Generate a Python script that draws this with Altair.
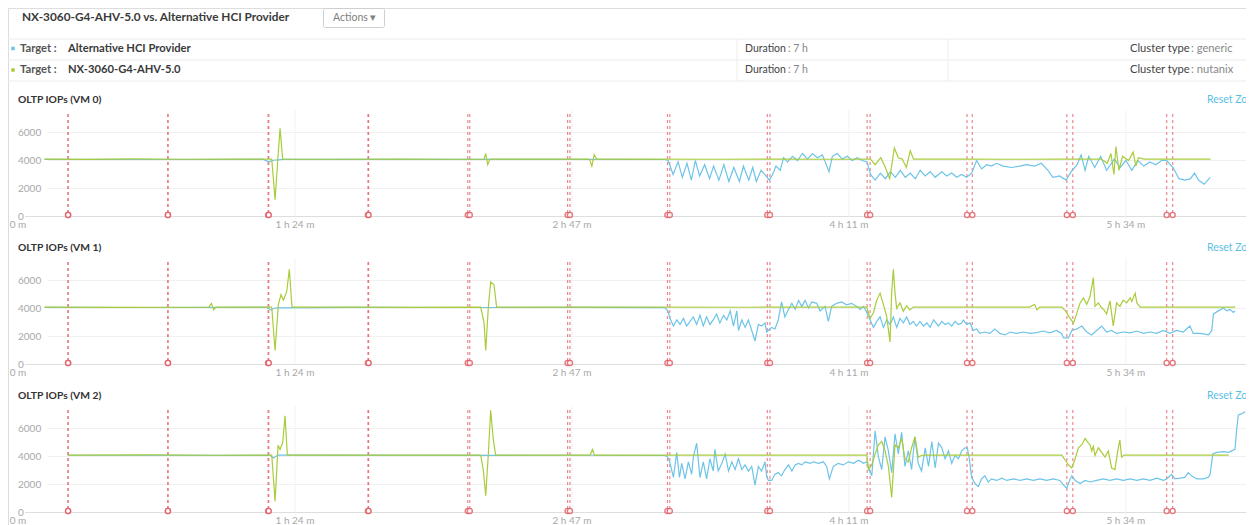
import altair as alt
import pandas as pd

# ---------------- values ----------------
header_title = "NX-3060-G4-AHV-5.0 vs. Alternative HCI Provider"
targets = ["Alternative HCI Provider", "NX-3060-G4-AHV-5.0"]
durations = ["7 h", "7 h"]
cluster_types = ["generic", "nutanix"]
panel_titles = ["OLTP IOPs (VM 0)", "OLTP IOPs (VM 1)", "OLTP IOPs (VM 2)"]
x_tick_minutes = [0, 83.5, 167, 250.5, 334]
x_tick_labels = ["0 m", "1 h 24 m", "2 h 47 m", "4 h 11 m", "5 h 34 m"]
y_tick_values = [0, 2000, 4000, 6000]

events_alt = [15.1, 45.2, 75.4, 105.5, 135.6, 165.7, 195.8, 225.9, 256.0, 286.1, 316.2, 346.3]
events_nx = [15.1, 45.2, 75.6, 105.7, 136.2, 166.4, 196.5, 226.7, 256.9, 287.7, 318.0, 348.1]

vm0_alt = [(8,4080),(40,4070),(74,4080),(75.6,3900),(77,4020),(80,4080),(120,4075),(160,4080),(195,4070),
 (196,4000),(197.5,3000),(199,3900),(200.3,2800),(201.7,3800),(203,2600),(204.2,4000),(205.5,2900),(207,3700),
 (208.5,2700),(209.7,3600),(211.3,2600),(212.8,3700),(214.3,2500),(215.8,3500),(217.5,2500),(218.7,3600),
 (220.3,2600),(221.5,3500),(222.6,2500),(224,3300),(225.5,2900),
 (226.5,2600),(227.5,3000),(228.5,3600),(229.8,3300),(230.8,4200),(232,3900),(233.5,4300),(235,4000),(236.5,4500),
 (238,4100),(239.5,4500),(241,4200),(242.5,4400),(244.5,3200),(245.5,4300),(247,4500),(248.5,4100),(250,4300),
 (251.5,4000),(253,4200),(254.5,4000),(256,3900),
 (257,3000),(258.4,2600),(260,3100),(261.5,2700),(263,3200),(264.5,2800),(266,3300),(267.5,2800),(269,3100),
 (270.5,2700),(272,3300),(273.5,2900),(275,3200),(276.5,2800),(278.5,3200),(280,2900),(281.5,3100),(283,2800),
 (284.5,3000),(286,2800),
 (287.5,3100),(289,4000),(290.5,3400),(292,3700),(293.5,3600),(295,3800),(297,3600),(299.5,3500),(302,3600),
 (304,3700),(306.5,3600),(308.5,3800),(310.5,3300),(312,2800),(314,2900),(316,2600),
 (317.5,3200),(319.3,3700),(320.5,4400),(321.7,3300),(322.8,4300),(324.6,3500),(326.4,4300),(328.2,3300),
 (330.5,4100),(332.3,3500),(334,4000),(335.8,3300),(337.6,4000),(339.4,3600),(341.2,3900),(343,3700),
 (344.8,4000),(346.3,4000),
 (348.2,3500),(350,2700),(351.8,2600),(353.5,2700),(354.7,3100),(355.9,2600),(357.6,2300),(359.4,2800)]

vm0_nx = [(8,4100),(20,4080),(35,4110),(50,4090),(65,4100),(76.5,4100),(77.5,1200),(78.3,4000),(79,6300),
 (79.8,4100),(95,4090),(115,4100),(130,4090),(140.5,4100),(141,4500),(141.6,3700),(142.3,4100),(158,4100),
 (172.3,4100),(173,3600),(173.7,4400),(174.5,4100),(190,4100),(210,4090),(230,4100),(245,4090),(257,4100),
 (258.4,3700),(260.1,4200),(261.3,3600),(262.8,2700),(264.2,4900),(265.4,4200),(266.6,4100),(267.8,3500),
 (269,4700),(270,4100),(285,4100),(300,4090),(315,4100),(326.6,4100),(328.4,3800),(329.5,4500),(330.4,3000),
 (331,5000),(331.9,3300),(333,4300),(334.8,4000),(336.2,4600),(337,3600),(337.8,4200),(339.5,4100),
 (350,4100),(359.5,4100)]

vm1_alt = [(8,4080),(40,4070),(75,4080),(76.2,3900),(77.8,4050),(100,4080),(140,4070),(170,4080),(195,4060),
 (195.9,3830),(196.6,3290),(197.6,2750),(198.6,3180),(199.6,2860),(200.6,3290),(201.6,2750),(202.6,3080),
 (203.6,3400),(204.6,2860),(205.6,3510),(206.6,2750),(207.6,3400),(208.6,2860),(209.6,3180),(210.6,3610),
 (211.6,2970),(212.7,3510),(213.7,3180),(214.7,3830),(215.7,2750),(216.7,3830),(217.2,2430),(218.2,3180),
 (219.2,2650),(220.2,3180),(221.2,2430),(222.2,1680),(223.2,2860),(224.2,2750),(225.2,2970),(225.7,2320),
 (226.2,2430),(227.2,2650),(228.2,2540),(229.2,3180),(230.2,4470),(231.2,3400),(232.3,3940),(233.3,4370),
 (234.3,3940),(235.3,4580),(236.3,4150),(237.3,4580),(238.3,4040),(239.3,4470),(240.8,4370),(241.8,3830),
 (243.3,4150),(244.3,3080),(245.3,4150),(246.8,4370),(248.3,4470),(249.8,4260),(251.3,4370),(252.9,4150),
 (253.9,3940),(254.9,4150),(255.9,3720),(256.9,3180),(257.9,2650),(258.9,3080),(259.9,3400),(260.9,2650),
 (261.9,3180),(262.9,2860),(263.9,3400),(264.9,2650),(265.9,3290),(266.9,2970),(267.9,3400),(268.9,2860),
 (269.9,3080),(270.9,2750),(271.9,3080),(273,2750),(274,2970),(275,2650),(276,3180),(277.5,2750),
 (278.5,3080),(279.5,2860),(280.5,2970),(281.5,2750),(282.5,3080),(283.5,2860),(284.5,2970),(285,3180),
 (286,2860),(287,2970),(288,2430),(289,2540),(290,2220),(291.5,2320),(293,2220),(294.5,2540),(296,2220),
 (297.6,2110),(299.1,2320),(301.1,2220),(303.1,2320),(305.1,2220),(307.1,2280),(309.1,2390),(311.1,2260),
 (313.1,2430),(314.6,2220),(315.2,1900),(316.7,1900),(317.7,2430),(319.2,2540),(320.7,2750),(322.2,2320),
 (323.7,2110),(325.2,2430),(326.7,2750),(328.2,2320),(329.7,2430),(331.2,2220),(333.2,2320),(335.3,2260),
 (337.3,2390),(339.3,2220),(341.3,2320),(343.3,2220),(345.3,2430),(347.3,2220),(349.3,2430),(351.3,2320),
 (353.3,2750),(354.3,2220),(356.4,2220),(358.9,2110),(359.9,2430),(360.4,3610),(361.9,3830),(363.4,4040),
 (364.4,3830),(365.4,3940),(366.4,3720),(366.9,3830)]

vm1_nx = [(8,4100),(30,4080),(57.5,4100),(58.3,4350),(59,3900),(59.7,4100),(76.5,4100),(77.5,1000),(78.5,4300),
 (79.3,5000),(80,4600),(81,5200),(81.8,6800),(82.6,4100),(100,4100),(120,4080),(139.5,4100),(140.5,3000),
 (141,1000),(141.8,4100),(142.5,5900),(143.5,5700),(144.3,4100),(160,4100),(190,4100),(220,4090),(255.9,4100),
 (256.9,3300),(257.9,3700),(258.9,4600),(259.9,5100),(260.9,4300),(261.9,3400),(262.9,1600),(263.4,5200),
 (263.9,6800),(264.4,5100),(264.9,4000),(265.9,4400),(266.9,3800),(267.9,4200),(268.9,3900),(269.9,4100),
 (290,4100),(305,4100),(306.5,4300),(307.2,3900),(308,4100),(314.7,4100),(315.7,3850),(317.2,3300),
 (318.2,2950),(319.2,3650),(320.2,4400),(321.2,4750),(322.2,4300),(323.2,4850),(324.2,6200),(324.7,4150),
 (325.7,4400),(326.7,4050),(327.4,3900),(328.2,3600),(329.2,4550),(330.2,2750),(331.2,4400),(332.2,4150),
 (333.2,4600),(334.2,4400),(335.3,4750),(335.8,4500),(336.8,5100),(337.3,4400),(338.3,4100),(350,4100),
 (367,4100)]

vm2_alt = [(15,4090),(76,4080),(77,3900),(78.3,4100),(140,4080),(170,4090),(195,4070),
 (195.9,3960),(196.6,3510),(197.6,2510),(198.6,4290),(199.4,2510),(200.1,3510),(201.1,2400),(202.1,3620),
 (203.1,2730),(203.6,3960),(204.6,4950),(205.6,2510),(206.6,3620),(207.6,2400),(208.6,3840),(209.6,2960),
 (210.1,4510),(211.1,2960),(212.2,3510),(213.2,4180),(214.2,2960),(215.2,3620),(216.2,3070),(217.2,3840),
 (218.2,3070),(219.2,3400),(220.2,2960),(221.2,3290),(222.2,1960),(223.2,3290),(224.2,2960),(225.2,3620),
 (225.7,2620),(226.2,2290),(227.2,2290),(228.2,2730),(229.2,2850),(230.2,2620),(231.2,3070),(232.3,3400),
 (233.3,2960),(234.3,3400),(235.3,3510),(236.3,3400),(237.3,3620),(238.8,3510),(239.8,3620),(241.3,3510),
 (242.8,3620),(243.8,3290),(244.6,2400),(245.8,3290),(247.3,3510),(248.8,3400),(250.3,3620),(251.9,3510),
 (253.4,3730),(254.9,3510),(255.9,3620),(256.4,3180),(257.4,2620),(258.4,5840),(259.4,3960),(260.4,3070),
 (261.4,5400),(262.4,4400),(263.4,2850),(264.4,5620),(265.4,4180),(266.4,5730),(267.4,3290),(268.4,4400),
 (269.4,3070),(270.4,5400),(271.4,3510),(272.4,2960),(273.5,4620),(274.5,3290),(275.5,5070),(276.5,3180),
 (277.5,4950),(278.5,4620),(279.5,3840),(280.5,4400),(281.5,3510),(282.5,4070),(283.5,3840),(284.5,4400),
 (285.5,4620),(286.2,4620),(286.8,3840),(287.5,2510),(288.5,2070),(289.5,1850),(290.5,2400),(291.5,2620),
 (292.5,2180),(293.5,2400),(295,2290),(296.6,2450),(298.1,2290),(300.1,2400),(302.1,2290),(304.1,2400),
 (306.1,2290),(308.1,2400),(310.1,2290),(312.1,2400),(314.1,2290),(315.2,1960),(316.2,1740),(317.2,2400),
 (317.7,2620),(318.7,2290),(320.2,2070),(321.7,2290),(323.2,2180),(325.2,2290),(327.2,2400),(329.2,2290),
 (331.2,2400),(333.2,2290),(335.3,2400),(337.3,2290),(339.3,2400),(341.3,2290),(343.3,2450),(345.3,2290),
 (346.3,2400),(347.8,2730),(348.8,2400),(350.3,2450),(351.8,2510),(352.8,2850),(353.8,2620),(355.4,2400),
 (357.4,2400),(358.9,2510),(359.4,2730),(360.2,4180),(361.4,4290),(363.4,4350),(364.9,4290),(365.9,4400),
 (366.9,4510),(367.4,5950),(367.9,6950),(368.9,7060),(370,7200)]

vm2_nx = [(15,4100),(40,4110),(60,4090),(76.5,4100),(77.5,800),(78.4,4800),(79,4500),(79.8,5000),(80.5,6900),
 (81.2,4100),(110,4100),(139.5,4100),(140.3,3000),(141,1200),(141.8,4200),(142.5,7300),(143.3,5200),(144,4100),
 (160,4100),(172.5,4100),(173.2,4500),(173.8,4100),(200,4100),(230,4100),(255.9,4100),(256.4,3070),
 (257.4,3400),(258.4,4180),(259.4,4840),(260.4,5070),(261.4,4400),(261.9,3840),(262.4,3290),(263.4,1070),
 (264.4,4840),(265.4,4620),(266.4,5290),(267.4,3840),(268.4,3620),(269.4,4620),(270.4,5400),(271.4,3960),
 (272.4,4070),(273.5,4100),(300,4100),(314.7,4100),(315.7,3730),(316.7,3400),(317.7,3180),(318.7,3840),
 (319.7,4620),(320.7,4840),(321.7,5290),(322.7,4950),(323.2,4840),(323.7,4400),(324.2,4730),(324.7,4070),
 (325.7,4620),(326.7,4290),(327.7,3960),(328.7,4400),(329.7,3180),(330.7,3070),(331.7,4620),(332.2,5180),
 (332.7,3960),(333.5,4100),(345,4100),(365,4100)]

panel_series = [(vm0_alt, vm0_nx), (vm1_alt, vm1_nx), (vm2_alt, vm2_nx)]

# ---------------- layout / style ----------------
W, H = 1238, 517
T_MAX = 370
PX_PER_MIN = 3.317
X0 = 10
Y_MAX = 7600
PX_PER_UNIT = 0.014
BASE0 = 208.5
PITCH = 148

BLUE = "#6dc4e8"
GREEN = "#a9cc3c"
RED = "#e2626a"
FONT = "Lato"

xs = alt.Scale(domain=[0, T_MAX], range=[X0, X0 + T_MAX * PX_PER_MIN], nice=False, zero=False)


def one():
    return pd.DataFrame({"d": [0]})


def text_layer(text, x, y, size=10, color="#333", weight="normal", align="left"):
    return alt.Chart(pd.DataFrame({"label": [text]})).mark_text(
        align=align, baseline="middle", fontSize=size, color=color, fontWeight=weight, font=FONT
    ).encode(text="label:N", x=alt.value(x), y=alt.value(y))


def hline(y, x1, x2, color="#e6e6e6"):
    return alt.Chart(one()).mark_rule(color=color, strokeWidth=1).encode(
        x=alt.value(x1), x2=alt.value(x2), y=alt.value(y))


def vline(x, y1, y2, color="#e6e6e6"):
    return alt.Chart(one()).mark_rule(color=color, strokeWidth=1).encode(
        x=alt.value(x), y=alt.value(y1), y2=alt.value(y2))


layers = []

# ---- header ----
layers.append(text_layer(header_title, 14, 8.5, size=11.8, color="#3a3a3a", weight="bold"))
layers.append(alt.Chart(one()).mark_rect(fill="white", stroke="#cfcfcf", strokeWidth=1, cornerRadius=2).encode(
    x=alt.value(315.5), x2=alt.value(376.5), y=alt.value(0.5), y2=alt.value(19.5)))
layers.append(text_layer("Actions ▾", 325, 10, size=10.5, color="#808080"))

for y in [31, 52, 73]:
    layers.append(hline(y, 0, W, "#ececec"))
for x in [729, 940]:
    layers.append(vline(x, 31, 73, "#ececec"))

dot_colors = [BLUE, GREEN]
for r in range(2):
    yy = 40.5 + 21.5 * r
    layers.append(alt.Chart(one()).mark_point(shape="square", filled=True, size=12, color=dot_colors[r], opacity=1).encode(
        x=alt.value(5), y=alt.value(yy)))
    layers.append(text_layer("Target :", 12, yy, size=11.2, color="#555", weight="bold"))
    layers.append(text_layer(targets[r], 60, yy, size=11.2, color="#3a3a3a", weight="bold"))
    layers.append(text_layer("Duration", 737, yy, size=10.5, color="#444"))
    layers.append(text_layer(": " + durations[r], 780, yy, size=10.5, color="#888"))
    layers.append(text_layer("Cluster type", 1122, yy, size=11.2, color="#444"))
    layers.append(text_layer(": " + cluster_types[r], 1183, yy, size=11.2, color="#888"))

# ---- panels ----
ev_df = pd.DataFrame({"t": events_alt + events_nx})
xt_df = pd.DataFrame({"t": x_tick_minutes, "label": x_tick_labels})
for i, (alt_pairs, nx_pairs) in enumerate(panel_series):
    base = BASE0 + PITCH * i
    ys = alt.Scale(domain=[0, Y_MAX], range=[base, base - Y_MAX * PX_PER_UNIT], nice=False, zero=False)
    X = alt.X("t:Q", scale=xs, axis=None)

    # horizontal grid
    grid_df = pd.DataFrame({"v": [g for g in y_tick_values if g > 0]})
    layers.append(alt.Chart(grid_df).mark_rule(color="#f0f0f0", strokeWidth=1).encode(
        y=alt.Y("v:Q", scale=ys, axis=None), x=alt.value(40), x2=alt.value(W)))
    layers.append(alt.Chart(pd.DataFrame({"v": [0]})).mark_rule(color="#dedede", strokeWidth=1).encode(
        y=alt.Y("v:Q", scale=ys, axis=None), x=alt.value(17), x2=alt.value(W)))
    # vertical grid at x ticks
    layers.append(alt.Chart(xt_df[xt_df.t > 0]).mark_rule(color="#f2f2f2", strokeWidth=1).encode(
        x=X, y=alt.Y(datum=0, scale=ys, axis=None), y2=alt.Y2(datum=Y_MAX)))
    # event lines
    layers.append(alt.Chart(ev_df).mark_rule(color=RED, strokeWidth=1.2, strokeDash=[3, 3], opacity=0.75).encode(
        x=X, y=alt.Y(datum=250, scale=ys, axis=None), y2=alt.Y2(datum=7450)))
    # series lines
    layers.append(alt.Chart(pd.DataFrame(alt_pairs, columns=["t", "v"])).mark_line(
        color=BLUE, strokeWidth=1.2, interpolate="linear").encode(
        x=X, y=alt.Y("v:Q", scale=ys, axis=None), order="t:Q"))
    layers.append(alt.Chart(pd.DataFrame(nx_pairs, columns=["t", "v"])).mark_line(
        color=GREEN, strokeWidth=1.2, interpolate="linear").encode(
        x=X, y=alt.Y("v:Q", scale=ys, axis=None), order="t:Q"))
    # event markers
    layers.append(alt.Chart(ev_df).mark_point(shape="circle", filled=False, fill="white", fillOpacity=1,
                                              stroke=RED, strokeWidth=1.4, size=26, opacity=0.85).encode(
        x=X, y=alt.Y(datum=110, scale=ys, axis=None)))
    # y labels
    layers.append(alt.Chart(pd.DataFrame({"v": y_tick_values, "label": [str(v) for v in y_tick_values]})).mark_text(
        align="left", baseline="middle", fontSize=10, color="#a8a8a8", font=FONT).encode(
        x=alt.value(X0), y=alt.Y("v:Q", scale=ys, axis=None), text="label:N"))
    # x labels
    layers.append(alt.Chart(xt_df).mark_text(
        align="center", baseline="middle", fontSize=10, color="#a8a8a8", font=FONT).encode(
        x=X, y=alt.value(base + 8.5), text="label:N"))
    # panel title & reset zoom
    layers.append(text_layer(panel_titles[i], X0, base - 116.5, size=10.3, color="#333", weight="bold"))
    layers.append(text_layer("Reset Zoom", 1199, base - 116.5, size=10.5, color="#5bbfe3"))

chart = alt.layer(*layers).resolve_scale(x="independent", y="independent").properties(
    width=W, height=H, padding=0, autosize=alt.AutoSizeParams(type="none"), background="white"
).configure_view(stroke=None).configure(font=FONT)

chart.save("out.html", embed_options={"renderer": "svg", "actions": False})
